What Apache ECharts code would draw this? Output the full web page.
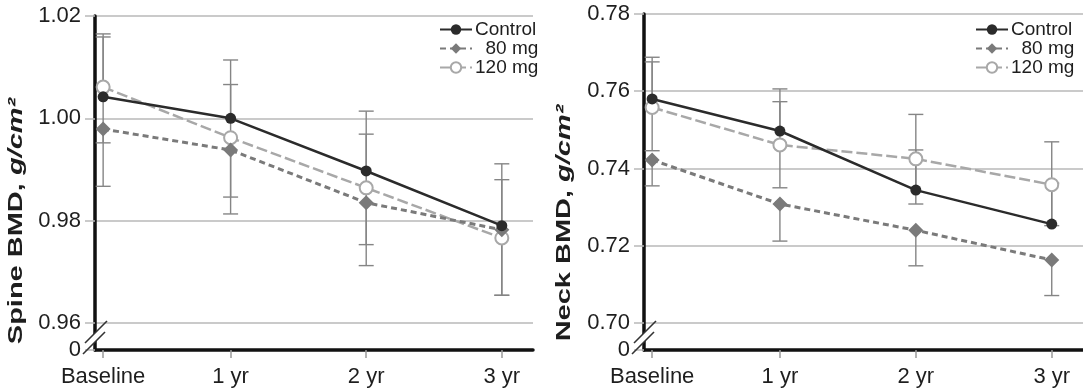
<!DOCTYPE html>
<html>
<head>
<meta charset="utf-8">
<script src="https://cdn.jsdelivr.net/npm/echarts@6/dist/echarts.min.js"></script>
<style>
  html, body { margin: 0; padding: 0; background: #fff; }
  #chart { width: 1083px; height: 392px; }
</style>
</head>
<body>
<div id="chart"></div>
<script>
// Visit labels and their position on the time axis (years since randomisation)
const visits = ['Baseline', '1 yr', '2 yr', '3 yr'];
const visitYears = [0.06, 1, 2, 3];
const groups = ['Control', '80 mg', '120 mg'];

// Lumbar spine BMD, g/cm2 (means, and the ends of the error bars)
const spineControl   = [1.0042, 1.0000, 0.9897, 0.9790];
const spine80        = [0.9979, 0.9938, 0.9835, 0.9782];
const spine120       = [1.0061, 0.9962, 0.9864, 0.9766];
const spineControlHi = [1.0159, 1.0114, 1.0014, 0.9911];
const spine80Lo      = [0.9867, 0.9813, 0.9712, 0.9654];
const spine120Hi     = [1.0165, 1.0066, 0.9969, 0.9880];
const spine120Lo     = [0.9952, 0.9846, 0.9753, 0.9654];
const spineTicks     = [0.96, 0.98, 1.00, 1.02];
const spineFloor     = 0.9547;   // broken-axis bottom, labelled "0"

// Femoral neck BMD, g/cm2
const neckControl   = [0.7580, 0.7497, 0.7344, 0.7256];
const neck80        = [0.7422, 0.7308, 0.7240, 0.7163];
const neck120       = [0.7558, 0.7461, 0.7425, 0.7358];
const neckControlHi = [0.7688, 0.7606, 0.7448, 0.7362];
const neck80Lo      = [0.7355, 0.7212, 0.7148, 0.7071];
const neck120Hi     = [0.7676, 0.7573, 0.7540, 0.7469];
const neck120Lo     = [0.7446, 0.7350, 0.7308, 0.7252];
const neckTicks     = [0.70, 0.72, 0.74, 0.76, 0.78];
const neckFloor     = 0.6930;

const FONT = "'Liberation Sans', Arial, Helvetica, sans-serif";
const INK = '#1e1e1e';
const GRID_GRAY = '#b9b9b9';
const BAR_GRAY = '#858585';
const styles = {
  'Control': { color: '#2b2b2b', symbol: 'circle', size: 11, line: { width: 2.5, type: 'solid' } },
  '80 mg':   { color: '#7a7a7a', symbol: 'diamond', size: 15, line: { width: 3, type: [6, 4] } },
  '120 mg':  { color: '#a8a8a8', symbol: 'emptyCircle', size: 13, line: { width: 2.5, type: [11, 4] } }
};

const pairs = vals => visitYears.map((x, i) => [x, vals[i]]);

function lineSeries(name, vals, idx) {
  const s = styles[name];
  return {
    name, type: 'line', xAxisIndex: idx, yAxisIndex: idx,
    data: pairs(vals), symbol: s.symbol, symbolSize: s.size, showSymbol: true,
    lineStyle: { color: s.color, width: s.line.width, type: s.line.type },
    itemStyle: { color: s.color, borderColor: s.color, borderWidth: s.symbol === 'emptyCircle' ? 2.5 : 0 },
    z: 3, animation: false, emphasis: { disabled: true }
  };
}

// Each bar runs from a mean to one bound, with a cap at the bound
function barItems(means, bounds) {
  return visitYears.map((x, i) => [x, means[i], bounds[i]]);
}

function errorSeries(idx, items) {
  return {
    type: 'custom', xAxisIndex: idx, yAxisIndex: idx, z: 1, animation: false,
    encode: { x: 0, y: [1, 2] },
    data: items,
    renderItem: (params, api) => {
      const p1 = api.coord([api.value(0), api.value(1)]);
      const p2 = api.coord([api.value(0), api.value(2)]);
      const st = { stroke: BAR_GRAY, lineWidth: 1.4 };
      return {
        type: 'group',
        children: [
          { type: 'line', shape: { x1: p1[0], y1: p1[1], x2: p2[0], y2: p2[1] }, style: st },
          { type: 'line', shape: { x1: p2[0] - 7.5, y1: p2[1], x2: p2[0] + 7.5, y2: p2[1] }, style: st }
        ]
      };
    }
  };
}

function xAxisFor(idx) {
  return {
    type: 'value', gridIndex: idx, min: 0, max: 3.23,
    axisLine: { show: true, onZero: false, lineStyle: { color: '#111', width: 3.5 } },
    axisTick: { show: true, length: 8, customValues: visitYears, lineStyle: { color: '#9a9a9a', width: 1.5 } },
    axisLabel: {
      customValues: visitYears, margin: 16, fontSize: 22, color: INK, fontFamily: FONT,
      formatter: v => visits[visitYears.findIndex(t => Math.abs(t - v) < 1e-6)] || ''
    },
    splitLine: { show: false }
  };
}

function yAxisFor(idx, floor, ticks) {
  const vals = [floor].concat(ticks);
  return {
    type: 'value', gridIndex: idx, min: floor, max: ticks[ticks.length - 1],
    axisLine: { show: true, onZero: false, lineStyle: { color: '#111', width: 3.5 } },
    axisTick: { show: true, length: 10, customValues: vals, lineStyle: { color: GRID_GRAY, width: 1.5 } },
    axisLabel: {
      customValues: vals, margin: 14, fontSize: 22, color: INK, fontFamily: FONT,
      formatter: v => Math.abs(v - floor) < 1e-6 ? '0' : v.toFixed(2)
    },
    splitLine: { show: true, lineStyle: { color: GRID_GRAY, width: 1.5 } }
  };
}

function legendFor(left) {
  return {
    orient: 'vertical', left, top: 15, itemGap: 0, itemWidth: 32, itemHeight: 13,
    data: groups,
    formatter: n => n === '80 mg' ? '  80 mg' : n,
    textStyle: { fontSize: 19, color: INK, fontFamily: FONT, padding: [0, 0, 0, -2] },
    selectedMode: false
  };
}

const chart = echarts.init(document.getElementById('chart'), null, { renderer: 'canvas' });

const option = {
  backgroundColor: '#fff',
  animation: false,
  grid: [
    { left: 95, top: 16, width: 438, bottom: 42, outerBoundsMode: 'none' },
    { left: 644, top: 14, width: 439, bottom: 42, outerBoundsMode: 'none' }
  ],
  xAxis: [xAxisFor(0), xAxisFor(1)],
  yAxis: [yAxisFor(0, spineFloor, spineTicks), yAxisFor(1, neckFloor, neckTicks)],
  legend: [legendFor(434), legendFor(970)],
  series: [
    errorSeries(0, [].concat(
      barItems(spineControl, spineControlHi), barItems(spine120, spine120Hi),
      barItems(spine120, spine120Lo), barItems(spine80, spine80Lo))),
    lineSeries('120 mg', spine120, 0),
    lineSeries('80 mg', spine80, 0),
    lineSeries('Control', spineControl, 0),
    errorSeries(1, [].concat(
      barItems(neckControl, neckControlHi), barItems(neck120, neck120Hi),
      barItems(neck120, neck120Lo), barItems(neck80, neck80Lo))),
    lineSeries('120 mg', neck120, 1),
    lineSeries('80 mg', neck80, 1),
    lineSeries('Control', neckControl, 1)
  ]
};
chart.setOption(option);

// Axis-break slashes and rotated axis titles
function breakMark(idx, floor, firstTick) {
  const a = chart.convertToPixel({ gridIndex: idx }, [0, floor]);
  const b = chart.convertToPixel({ gridIndex: idx }, [0, firstTick]);
  const ax = a[0], ay = (a[1] + b[1]) / 2 + 1;
  const h = 4.5;
  const stroke = { stroke: '#333', lineWidth: 1.6 };
  return [
    { type: 'polygon', z: 100, silent: true,
      shape: { points: [[ax - 5, ay - h + 5], [ax + 5, ay - h - 5], [ax + 5, ay + h - 5], [ax - 5, ay + h + 5]] },
      style: { fill: '#fff' } },
    { type: 'line', z: 101, silent: true,
      shape: { x1: ax - 10, y1: ay - h + 10, x2: ax + 12, y2: ay - h - 12 }, style: stroke },
    { type: 'line', z: 101, silent: true,
      shape: { x1: ax - 12, y1: ay + h + 12, x2: ax + 10, y2: ay + h - 10 }, style: stroke }
  ];
}

// Titles are set in a wide bold face: stretched along the reading direction
function axisTitle(x, y, main) {
  return {
    type: 'text', x, y, rotation: Math.PI / 2, scaleX: 1.38, silent: true, z: 100,
    style: {
      text: '{b|' + main + ', }{i|g/cm²}',
      align: 'center', verticalAlign: 'middle',
      rich: {
        b: { fontSize: 21, fontWeight: 'bold', fontFamily: FONT, fill: INK },
        i: { fontSize: 21, fontWeight: 'bold', fontStyle: 'italic', fontFamily: FONT, fill: INK }
      }
    }
  };
}

chart.setOption({
  graphic: [].concat(
    breakMark(0, spineFloor, spineTicks[0]),
    breakMark(1, neckFloor, neckTicks[0]),
    [axisTitle(16, 221, 'Spine BMD'), axisTitle(564, 223, 'Neck BMD')]
  )
});
</script>
</body>
</html>
